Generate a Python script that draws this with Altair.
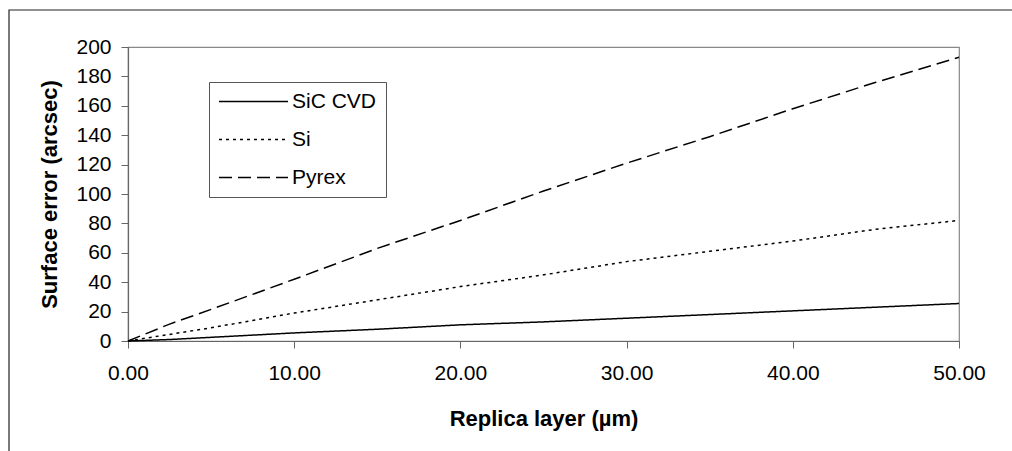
import altair as alt
import pandas as pd

# Replica layer thickness (µm)
layer_um = [0, 2.5, 5, 10, 15, 20, 25, 30, 35, 40, 45, 50]
# Surface error (arcsec) per material
sic_cvd = [0, 1, 2.5, 5.5, 8, 11, 13, 15.5, 18, 20.5, 23, 25.5]
si = [0, 4.5, 9, 19, 28, 37, 45, 54, 61, 68, 76, 82]
pyrex = [0, 11.5, 21.5, 42, 63, 82, 102, 121, 139, 158, 176, 193]

series_names = ["SiC CVD", "Si", "Pyrex"]
series_values = [sic_cvd, si, pyrex]

rows = []
for name, vals in zip(series_names, series_values):
    for x, y in zip(layer_um, vals):
        rows.append({"layer": x, "error": y, "material": name})
df = pd.DataFrame(rows)

FONT = "Liberation Sans"

lines = alt.Chart(df).mark_line(color="black", strokeWidth=1.5).encode(
    x=alt.X("layer:Q", title="Replica layer (µm)",
            scale=alt.Scale(domain=[0, 50], nice=False),
            axis=alt.Axis(values=[0, 10, 20, 30, 40, 50], format=".2f",
                          grid=False, tickSize=7, labelPadding=14,
                          labelFlush=False, titlePadding=25)),
    y=alt.Y("error:Q", title="Surface error (arcsec)",
            scale=alt.Scale(domain=[0, 200], nice=False),
            axis=alt.Axis(values=list(range(0, 201, 20)), grid=False,
                          tickSize=7, labelPadding=10, labelFlush=False,
                          titlePadding=14)),
    strokeDash=alt.StrokeDash(
        "material:N",
        scale=alt.Scale(domain=series_names, range=[[1, 0], [3, 4], [13, 6]]),
        legend=alt.Legend(title=None, orient="none", legendX=81, legendY=35,
                          symbolType="stroke", symbolSize=4761,
                          symbolStrokeWidth=1.5, symbolStrokeColor="black",
                          clipHeight=21,
                          labelFontSize=21, labelFont=FONT, labelColor="black",
                          labelOffset=3, rowPadding=16, padding=9,
                          strokeColor="#555555", fillColor="white"),
    ),
    order=alt.Order("layer:Q"),
)

frame = alt.Chart(pd.DataFrame({"a": [0]})).mark_rect(
    fill=None, stroke="#222222", strokeWidth=1.2
).encode(
    x=alt.value(-119), x2=alt.value(1300), y=alt.value(-37), y2=alt.value(800)
)

chart = alt.layer(frame, lines).properties(
    width=831, height=294,
    autosize=alt.AutoSizeParams(type="none"),
    padding={"left": 128, "top": 47, "right": 53, "bottom": 110},
    background="white",
).configure_view(
    stroke="#888888", strokeWidth=1.2
).configure_axis(
    domainColor="#666666", tickColor="#666666", domainWidth=1.2,
    labelFont=FONT, labelFontSize=21, labelColor="black",
    titleFont=FONT, titleFontSize=22, titleFontWeight="bold", titleColor="black",
)

chart.save("out.html", embed_options={"renderer": "svg", "actions": False})
